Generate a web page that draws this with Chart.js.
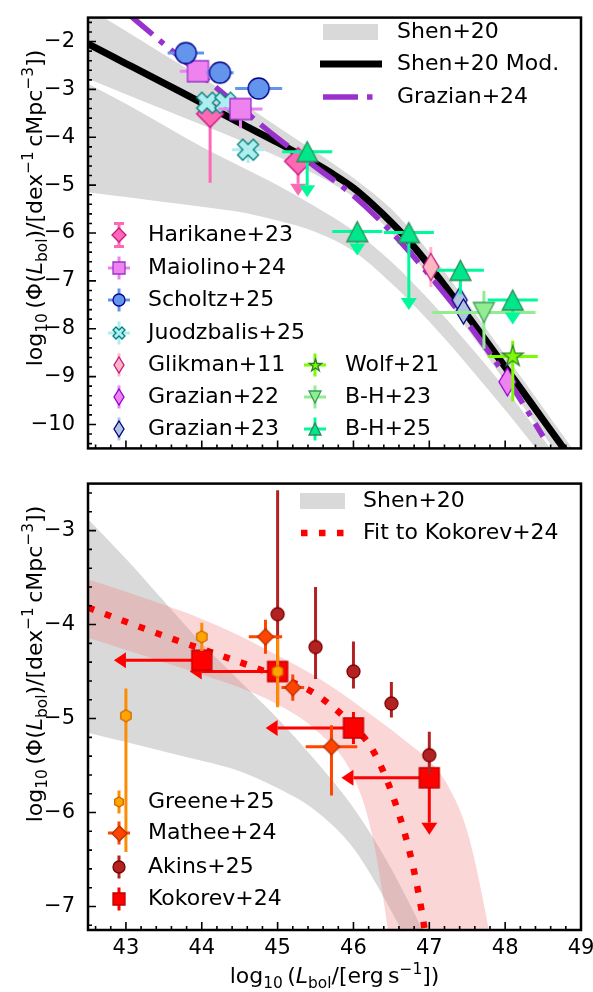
<!DOCTYPE html>
<html>
<head>
<meta charset="utf-8">
<script src="https://cdn.jsdelivr.net/npm/chart.js@4.4.0/dist/chart.umd.min.js"></script>
<style>
  html, body { margin: 0; padding: 0; background: #fff; }
  #wrap { position: relative; width: 593px; height: 992px; }
  #topChart { position: absolute; left: 0; top: 0; }
  #botChart { position: absolute; left: 0; top: 466px; }
</style>
</head>
<body>
<div id="wrap">
  <canvas id="topChart" width="593" height="466"></canvas>
  <canvas id="botChart" width="593" height="526"></canvas>
</div>
<script>
'use strict';

const FONT = '"DejaVu Sans", "Noto Sans", sans-serif';
const MINUS = '\u2212';

// ---- axes ----
const xMin = 42.5, xMax = 49;
const xTicks = [43, 44, 45, 46, 47, 48, 49];
const topYMin = -10.5, topYMax = -1.5;
const topYTicks = [-10, -9, -8, -7, -6, -5, -4, -3, -2];
const botYMin = -7.25, botYMax = -2.5;
const botYTicks = [-7, -6, -5, -4, -3];

// ---- model curves (log10 L_bol grid) ----
const shenX = [42.5, 43, 43.5, 44, 44.5, 45, 45.5, 46, 46.5, 47, 47.5, 48, 48.5, 49];
const shenBrightHi = [-1.3, -1.78, -2.27, -2.75, -3.25, -3.78, -4.3, -4.85, -5.5, -6.4, -7.45, -8.55, -9.65, -10.75];
const shenBrightLo = [-2.78, -3.1, -3.42, -3.74, -4.06, -4.4, -4.78, -5.25, -6.0, -6.9, -8.0, -9.1, -10.2, -11.3];
const shenFaintHi = [-2.88, -3.3, -3.75, -4.2, -4.6, -5.0, -5.45, -5.95, -6.6, -7.4, -8.3, -9.25, -10.3, -11.4];
const shenFaintLo = [-5.15, -5.25, -5.35, -5.45, -5.56, -5.74, -5.98, -6.38, -7.05, -7.85, -8.75, -9.7, -10.7, -11.8];

const shenModX = [42.5, 43, 43.5, 44, 44.5, 45, 45.5, 45.75, 46, 46.25, 46.5, 46.75, 47, 47.5, 48, 48.5, 49];
const shenModY = [-2.05, -2.46, -2.87, -3.28, -3.70, -4.11, -4.55, -4.79, -5.06, -5.4, -5.78, -6.2, -6.68, -7.72, -8.8, -9.9, -11.0];

const grazian24X = [43, 43.5, 44, 44.5, 45, 45.5, 46, 46.5, 47, 47.5, 48, 48.5];
const grazian24Y = [-1.38, -2.05, -2.71, -3.37, -4.02, -4.62, -5.22, -5.98, -6.88, -7.87, -8.98, -10.25];

const kokFitX = [42.5, 43, 43.5, 44, 44.5, 45, 45.5, 46, 46.25, 46.5, 46.75, 46.9, 47.0];
const kokFitY = [-3.82, -3.97, -4.12, -4.26, -4.40, -4.55, -4.74, -5.08, -5.33, -5.78, -6.45, -7.05, -7.6];
const kokBandX = [42.5, 43, 43.5, 44, 44.5, 45, 45.5, 46, 46.25, 46.5, 46.75, 47, 47.25, 47.5, 47.75, 48];
const kokBandHi = [-3.52, -3.65, -3.79, -3.94, -4.12, -4.33, -4.55, -4.82, -4.97, -5.12, -5.28, -5.45, -5.72, -6.2, -7.1, -8.3];
const kokBandLo = [-4.14, -4.27, -4.4, -4.53, -4.67, -4.85, -5.12, -5.62, -6.25, -7.5, -9, -10, -11, -12, -13, -14];

// ---- top panel measurements ----
const harikaneX = [44.11, 45.27];
const harikaneY = [-3.51, -4.50];
const harikaneYHi = [0.2, 0];
const harikaneYLo = [1.44, 0.47];
const harikaneUpLim = [false, true];

const maiolinoX = [43.95, 44.51];
const maiolinoY = [-2.62, -3.41];
const maiolinoXErr = [0.24, 0.29];
const maiolinoYHi = [0.05, 0.1];
const maiolinoYLo = [0.12, 0.4];

const scholtzX = [43.79, 44.24, 44.75];
const scholtzY = [-2.24, -2.65, -2.98];
const scholtzXErr = [0.24, 0.18, 0.31];

const juodzbalisX = [44.07, 44.31, 44.61];
const juodzbalisY = [-3.28, -3.28, -4.26];
const juodzbalisXErr = [0.1, 0.1, 0.21];
const juodzbalisYHi = [0.05, 0.05, 0.15];
const juodzbalisYLo = [0.05, 0.05, 0.28];

const glikmanX = [47.02];
const glikmanY = [-6.71];
const glikmanYErr = [0.42];

const grazian22X = [48.03];
const grazian22Y = [-9.11];

const grazian23X = [47.40, 47.45];
const grazian23Y = [-7.40, -7.64];

const wolfX = [48.10];
const wolfY = [-8.58];
const wolfXErr = [0.33];
const wolfYHi = [0.33];
const wolfYLo = [0.94];

const bh23X = [47.72];
const bh23Y = [-7.66];
const bh23XErr = [0.68];
const bh23YHi = [0.45];
const bh23YLo = [0.76];

const bh25X = [45.39, 46.05, 46.73, 47.41, 48.10];
const bh25Y = [-4.30, -5.97, -5.99, -6.78, -7.40];
const bh25XErr = [0.33, 0.33, 0.33, 0.31, 0.33];
const bh25YLo = [0.7, 0.25, 1.37, 0.5, 0.26];
const bh25UpLim = [true, true, true, false, true];

// ---- bottom panel measurements ----
const greeneX = [43.0, 44.0, 45.0];
const greeneY = [-4.97, -4.13, -4.50];
const greeneYHi = [0.29, 0.15, 0.35];
const greeneYLo = [1.45, 0.15, 0.38];

const matheeX = [44.84, 45.20, 45.71];
const matheeY = [-4.13, -4.67, -5.30];
const matheeXErr = [0.22, 0.15, 0.34];
const matheeYHi = [0.18, 0.14, 0.23];
const matheeYLo = [0.18, 0.14, 0.52];

const akinsX = [45.0, 45.5, 46.0, 46.5, 47.0];
const akinsY = [-3.89, -4.24, -4.50, -4.84, -5.39];
const akinsYHi = [1.32, 0.64, 0.32, 0.23, 0.25];
const akinsYLo = [0.97, 0.34, 0.18, 0.15, 0.2];

const kokorevX = [44.0, 45.0, 46.0, 47.0];
const kokorevY = [-4.38, -4.50, -5.10, -5.63];
const kokorevXLo = [1.0, 1.0, 1.0, 1.0];
const kokorevYHi = [0, 0, 0.17, 0];
const kokorevYLo = [0, 0, 0.17, 0.48];
const kokorevLeftLim = [true, true, true, true];
const kokorevUpLim = [false, false, false, true];

// ---- helpers ----
const pts = (xs, ys) => xs.map((x, i) => ({ x, y: ys[i] }));
const fmt = v => (v < 0 ? MINUS + Math.abs(v) : String(v));
const val = (arr, i) => (arr ? (arr[i] || 0) : 0);

function makeMarker(shape, w, h, fill, edge, lw = 1.3) {
  const pad = Math.ceil(lw) + 1;
  const c = document.createElement('canvas');
  c.width = Math.ceil(w + 2 * pad);
  c.height = Math.ceil(h + 2 * pad);
  const g = c.getContext('2d');
  g.translate(c.width / 2, c.height / 2);
  const rx = w / 2, ry = h / 2;
  g.beginPath();
  if (shape === 'circle') {
    g.ellipse(0, 0, rx, ry, 0, 0, Math.PI * 2);
  } else if (shape === 'square') {
    g.rect(-rx, -ry, w, h);
  } else if (shape === 'diamond') {
    g.moveTo(0, -ry); g.lineTo(rx, 0); g.lineTo(0, ry); g.lineTo(-rx, 0); g.closePath();
  } else if (shape === 'triUp') {
    g.moveTo(0, -ry); g.lineTo(rx, ry); g.lineTo(-rx, ry); g.closePath();
  } else if (shape === 'triDown') {
    g.moveTo(0, ry); g.lineTo(rx, -ry); g.lineTo(-rx, -ry); g.closePath();
  } else if (shape === 'star') {
    for (let k = 0; k < 10; k++) {
      const r = k % 2 ? 0.382 : 1;
      const a = -Math.PI / 2 + k * Math.PI / 5;
      const px = Math.cos(a) * r * rx, py = Math.sin(a) * r * ry;
      k ? g.lineTo(px, py) : g.moveTo(px, py);
    }
    g.closePath();
  } else if (shape === 'hex') {
    for (let k = 0; k < 6; k++) {
      const a = -Math.PI / 2 + k * Math.PI / 3;
      const px = Math.cos(a) * rx, py = Math.sin(a) * ry;
      k ? g.lineTo(px, py) : g.moveTo(px, py);
    }
    g.closePath();
  } else if (shape === 'xfill') {
    const v = [[-1, -2], [0, -1], [1, -2], [2, -1], [1, 0], [2, 1], [1, 2], [0, 1], [-1, 2], [-2, 1], [-1, 0], [-2, -1]];
    v.forEach(([a, b], k) => (k ? g.lineTo(a * rx / 2, b * ry / 2) : g.moveTo(a * rx / 2, b * ry / 2)));
    g.closePath();
  }
  g.fillStyle = fill;
  g.fill();
  g.lineWidth = lw;
  g.strokeStyle = edge;
  g.stroke();
  return c;
}

function arrowHead(ctx, x, y, dir) {
  const half = 8, len = 12;
  ctx.beginPath();
  if (dir === 'down') {
    ctx.moveTo(x - half, y); ctx.lineTo(x + half, y); ctx.lineTo(x, y + len);
  } else {
    ctx.moveTo(x, y - half); ctx.lineTo(x, y + half); ctx.lineTo(x - len, y);
  }
  ctx.closePath();
  ctx.fill();
}

// error bars sit just under each dataset's own markers
const errorBars = {
  id: 'errorBars',
  beforeDatasetDraw(chart, args) {
    const ds = chart.data.datasets[args.index];
    const e = ds.errorBars;
    if (!e) return;
    const { ctx, chartArea: a } = chart;
    const sx = chart.scales.x, sy = chart.scales.y;
    ctx.save();
    ctx.beginPath();
    ctx.rect(a.left, a.top, a.right - a.left, a.bottom - a.top);
    ctx.clip();
    ctx.strokeStyle = e.color;
    ctx.fillStyle = e.color;
    ctx.lineWidth = 3;
    ds.data.forEach((p, i) => {
      const px = sx.getPixelForValue(p.x);
      const py = sy.getPixelForValue(p.y);
      const xl = val(e.xLo, i), xh = val(e.xHi || e.xLo, i);
      const yl = val(e.yLo, i), yh = val(e.yHi || e.yLo, i);
      ctx.beginPath();
      if (xl || xh) {
        ctx.moveTo(sx.getPixelForValue(p.x - xl), py);
        ctx.lineTo(sx.getPixelForValue(p.x + xh), py);
      }
      if (yl || yh) {
        ctx.moveTo(px, sy.getPixelForValue(p.y + yh));
        ctx.lineTo(px, sy.getPixelForValue(p.y - yl));
      }
      ctx.stroke();
      if (e.upLim && e.upLim[i]) arrowHead(ctx, px, sy.getPixelForValue(p.y - yl), 'down');
      if (e.leftLim && e.leftLim[i]) arrowHead(ctx, sx.getPixelForValue(p.x - xl), py, 'left');
    });
    ctx.restore();
  }
};

// inward ticks on bottom/left plus the heavy frame
const axesFrame = {
  id: 'axesFrame',
  afterDatasetsDraw(chart) {
    const { ctx, chartArea: a } = chart;
    const sx = chart.scales.x, sy = chart.scales.y;
    ctx.save();
    ctx.strokeStyle = '#000';
    ctx.lineWidth = 1.6;
    ctx.beginPath();
    for (let k = Math.ceil(sx.min * 5); k <= Math.floor(sx.max * 5); k++) {
      const px = sx.getPixelForValue(k / 5);
      const len = k % 5 === 0 ? 8 : 4;
      ctx.moveTo(px, a.bottom); ctx.lineTo(px, a.bottom - len);
    }
    for (let k = Math.ceil(sy.min * 5); k <= Math.floor(sy.max * 5); k++) {
      const py = sy.getPixelForValue(k / 5);
      const len = k % 5 === 0 ? 8 : 4;
      ctx.moveTo(a.left, py); ctx.lineTo(a.left + len, py);
    }
    ctx.stroke();
    ctx.lineWidth = 2.5;
    ctx.strokeRect(a.left, a.top, a.right - a.left, a.bottom - a.top);
    ctx.restore();
  }
};

// text with sub/superscripts, centred on the current origin
function drawRich(ctx, runs, size) {
  const fontFor = r => (r.it ? 'italic ' : '') + ((r.sub || r.sup) ? size * 0.7 : size) + 'px ' + FONT;
  let w = 0;
  runs.forEach(r => { ctx.font = fontFor(r); w += ctx.measureText(r.t).width; });
  let x = -w / 2;
  ctx.textAlign = 'left';
  ctx.textBaseline = 'alphabetic';
  runs.forEach(r => {
    ctx.font = fontFor(r);
    const dy = r.sub ? size * 0.22 : r.sup ? -size * 0.42 : 0;
    ctx.fillText(r.t, x, dy);
    x += ctx.measureText(r.t).width;
  });
}

const yTitle = [
  { t: 'log' }, { t: '10', sub: 1 }, { t: '\u2009(\u03A6(' }, { t: 'L', it: 1 }, { t: 'bol', sub: 1 },
  { t: ')/[dex' }, { t: MINUS + '1', sup: 1 }, { t: '\u2009cMpc' }, { t: MINUS + '3', sup: 1 }, { t: '])' },
];
const xTitle = [
  { t: 'log' }, { t: '10', sub: 1 }, { t: '\u2009(' }, { t: 'L', it: 1 }, { t: 'bol', sub: 1 },
  { t: '/[erg\u2009s' }, { t: MINUS + '1', sup: 1 }, { t: '])' },
];

function drawYTitle(chart, cy) {
  const ctx = chart.ctx;
  ctx.save();
  ctx.fillStyle = '#000';
  ctx.translate(42, cy);
  ctx.rotate(-Math.PI / 2);
  drawRich(ctx, yTitle, 22);
  ctx.restore();
}

// legend glyph: error cross / bar behind a small marker
function drawGlyph(ctx, x, y, item) {
  ctx.save();
  ctx.strokeStyle = item.color;
  ctx.lineWidth = 3;
  ctx.beginPath();
  ctx.moveTo(x, y - 11.5); ctx.lineTo(x, y + 11.5);
  if (item.cross) { ctx.moveTo(x - 11, y); ctx.lineTo(x + 11, y); }
  if (item.cap) {
    ctx.moveTo(x - 5, y - 11.5); ctx.lineTo(x + 5, y - 11.5);
    ctx.moveTo(x - 5, y + 11.5); ctx.lineTo(x + 5, y + 11.5);
  }
  ctx.stroke();
  const m = item.marker;
  ctx.drawImage(m, Math.round(x - m.width / 2), Math.round(y - m.height / 2));
  ctx.restore();
}

function drawLegendText(ctx, text, x, y) {
  ctx.font = '22px ' + FONT;
  ctx.fillStyle = '#000';
  ctx.textAlign = 'left';
  ctx.textBaseline = 'middle';
  ctx.fillText(text, x, y);
}

// ---- colours ----
const C = {
  shen: '#d9d9d9',
  shenMod: '#000000',
  grazian24: '#9932cc',
  kokFit: '#ff0000',
  kokBand: 'rgba(240,128,128,0.32)',
};

// ---- markers (plot size / legend size) ----
const M = {
  harikane: makeMarker('diamond', 27, 27, '#ff69b4', '#c71585'),
  maiolino: makeMarker('square', 21, 21, '#ee82ee', '#9932cc'),
  scholtz: makeMarker('circle', 21, 21, '#6495ed', '#00008b'),
  juodzbalis: makeMarker('xfill', 21, 21, '#afeeee', '#008080'),
  glikman: makeMarker('diamond', 16, 27, '#ffb6c1', '#c71585'),
  grazian22: makeMarker('diamond', 17, 28, '#ee82ee', '#9400d3'),
  grazian23: makeMarker('diamond', 15, 25, '#b0c4de', '#000080'),
  wolf: makeMarker('star', 22, 22, '#7cfc00', '#2e7d32'),
  bh23: makeMarker('triDown', 21, 20, '#90ee90', '#3c9a5f'),
  bh25: makeMarker('triUp', 21, 20, '#00e68a', '#2e8b57'),
  greene: makeMarker('hex', 12, 12, '#ffa500', '#cc6a00'),
  mathee: makeMarker('diamond', 16, 16, '#ff4500', '#b83200'),
  akins: makeMarker('circle', 13, 13, '#b22222', '#7a0000'),
  kokorev: makeMarker('square', 20, 20, '#ff0000', '#c00000'),
};
const L = {
  harikane: makeMarker('diamond', 14, 14, '#ff69b4', '#c71585'),
  maiolino: makeMarker('square', 12, 12, '#ee82ee', '#9932cc'),
  scholtz: makeMarker('circle', 12, 12, '#6495ed', '#00008b'),
  juodzbalis: makeMarker('xfill', 12, 12, '#afeeee', '#008080'),
  glikman: makeMarker('diamond', 10, 16, '#ffb6c1', '#c71585'),
  grazian22: makeMarker('diamond', 10, 16, '#ee82ee', '#9400d3'),
  grazian23: makeMarker('diamond', 10, 16, '#b0c4de', '#000080'),
  wolf: makeMarker('star', 13, 13, '#7cfc00', '#2e7d32'),
  bh23: makeMarker('triDown', 12, 12, '#90ee90', '#3c9a5f'),
  bh25: makeMarker('triUp', 12, 12, '#00e68a', '#2e8b57'),
  greene: makeMarker('hex', 10, 10, '#ffa500', '#cc6a00'),
  mathee: makeMarker('diamond', 15, 15, '#ff4500', '#b83200'),
  akins: makeMarker('circle', 12, 12, '#b22222', '#7a0000'),
  kokorev: makeMarker('square', 12, 12, '#ff0000', '#c00000'),
};

// ---- dataset builders ----
function band(xs, ys, color, fill) {
  return {
    type: 'line', data: pts(xs, ys), borderWidth: 0, pointRadius: 0,
    backgroundColor: color, fill: fill ? '+1' : false, cubicInterpolationMode: 'monotone',
  };
}
function curve(xs, ys, color, width, dash) {
  return {
    type: 'line', data: pts(xs, ys), borderColor: color, borderWidth: width, borderDash: dash || [],
    borderCapStyle: 'butt', pointRadius: 0, fill: false, cubicInterpolationMode: 'monotone',
  };
}
function points(label, xs, ys, marker, errorBars) {
  return { type: 'scatter', label, data: pts(xs, ys), pointStyle: marker, pointRadius: 10, errorBars };
}
// first dataset is drawn first (lowest)
function stackOrder(list) {
  list.forEach((d, i) => { d.order = list.length - i; });
  return list;
}

function xScale(showLabels, height) {
  return {
    type: 'linear', min: xMin, max: xMax,
    grid: { display: false }, border: { display: false },
    afterBuildTicks: s => { s.ticks = xTicks.map(v => ({ value: v })); },
    afterFit: s => { s.height = height; },
    ticks: {
      display: showLabels, padding: -2, color: '#000', maxRotation: 0, autoSkip: false,
      font: { family: FONT, size: 21 }, callback: fmt,
    },
  };
}
function yScale(min, max, ticks) {
  return {
    type: 'linear', min, max,
    grid: { display: false }, border: { display: false },
    afterBuildTicks: s => { s.ticks = ticks.map(v => ({ value: v })); },
    afterFit: s => { s.width = 88; },
    ticks: { padding: 5, color: '#000', autoSkip: false, font: { family: FONT, size: 21 }, callback: fmt },
  };
}
const baseOptions = (pad, x, y) => ({
  responsive: false, animation: false, events: [],
  layout: { padding: pad },
  plugins: { legend: { display: false }, tooltip: { enabled: false } },
  scales: { x, y },
});

// ---- top panel ----
const topLegend = {
  id: 'topLegend',
  afterDraw(chart) {
    const ctx = chart.ctx;
    drawYTitle(chart, 208);
    // models, upper right
    ctx.save();
    ctx.fillStyle = C.shen;
    ctx.fillRect(323, 24, 55, 16);
    ctx.strokeStyle = C.shenMod;
    ctx.lineWidth = 7;
    ctx.beginPath(); ctx.moveTo(320, 64); ctx.lineTo(382, 64); ctx.stroke();
    ctx.strokeStyle = C.grazian24;
    ctx.lineWidth = 5.5;
    ctx.setLineDash([35, 9, 5.5, 9]);
    ctx.beginPath(); ctx.moveTo(323, 97); ctx.lineTo(380, 97); ctx.stroke();
    ctx.restore();
    drawLegendText(ctx, 'Shen+20', 397, 32);
    drawLegendText(ctx, 'Shen+20 Mod.', 397, 64);
    drawLegendText(ctx, 'Grazian+24', 397, 97);
    // data, lower left
    const col1 = [
      ['Harikane+23', { marker: L.harikane, color: '#ff69b4', cap: true }],
      ['Maiolino+24', { marker: L.maiolino, color: '#ee82ee', cross: true }],
      ['Scholtz+25', { marker: L.scholtz, color: '#6495ed', cross: true }],
      ['Juodzbalis+25', { marker: L.juodzbalis, color: '#afeeee', cross: true }],
      ['Glikman+11', { marker: L.glikman, color: '#ffb6c1' }],
      ['Grazian+22', { marker: L.grazian22, color: '#ee82ee' }],
      ['Grazian+23', { marker: L.grazian23, color: '#b0c4de' }],
    ];
    const rows = [235, 268, 300, 333, 365, 397, 429];
    col1.forEach(([t, g], i) => { drawGlyph(ctx, 119, rows[i], g); drawLegendText(ctx, t, 148, rows[i]); });
    const col2 = [
      ['Wolf+21', { marker: L.wolf, color: '#7cfc00', cross: true }],
      ['B-H+23', { marker: L.bh23, color: '#90ee90', cross: true }],
      ['B-H+25', { marker: L.bh25, color: '#00fa9a', cross: true }],
    ];
    col2.forEach(([t, g], i) => { drawGlyph(ctx, 315, rows[i + 4], g); drawLegendText(ctx, t, 345, rows[i + 4]); });
  }
};

new Chart(document.getElementById('topChart'), {
  type: 'scatter',
  data: {
    datasets: stackOrder([
      band(shenX, shenBrightHi, C.shen, true),
      band(shenX, shenBrightLo, C.shen, false),
      band(shenX, shenFaintHi, C.shen, true),
      band(shenX, shenFaintLo, C.shen, false),
      curve(shenModX, shenModY, C.shenMod, 7),
      curve(grazian24X, grazian24Y, C.grazian24, 5.5, [35, 9, 5.5, 9]),
      points('Harikane+23', harikaneX, harikaneY, M.harikane,
        { color: '#ff69b4', yHi: harikaneYHi, yLo: harikaneYLo, upLim: harikaneUpLim }),
      points('Juodzbalis+25', juodzbalisX, juodzbalisY, M.juodzbalis,
        { color: '#afeeee', xLo: juodzbalisXErr, yHi: juodzbalisYHi, yLo: juodzbalisYLo }),
      points('Maiolino+24', maiolinoX, maiolinoY, M.maiolino,
        { color: '#ee82ee', xLo: maiolinoXErr, yHi: maiolinoYHi, yLo: maiolinoYLo }),
      points('Scholtz+25', scholtzX, scholtzY, M.scholtz, { color: '#6495ed', xLo: scholtzXErr }),
      points('Glikman+11', glikmanX, glikmanY, M.glikman, { color: '#ffb6c1', yLo: glikmanYErr }),
      points('Grazian+22', grazian22X, grazian22Y, M.grazian22, null),
      points('Grazian+23', grazian23X, grazian23Y, M.grazian23, null),
      points('Wolf+21', wolfX, wolfY, M.wolf, { color: '#7cfc00', xLo: wolfXErr, yHi: wolfYHi, yLo: wolfYLo }),
      points('B-H+23', bh23X, bh23Y, M.bh23, { color: '#90ee90', xLo: bh23XErr, yHi: bh23YHi, yLo: bh23YLo }),
      points('B-H+25', bh25X, bh25Y, M.bh25,
        { color: '#00fa9a', xLo: bh25XErr, yHi: [0, 0, 0, 0, 0], yLo: bh25YLo, upLim: bh25UpLim }),
    ]),
  },
  options: baseOptions({ top: 4, right: 12, left: 0, bottom: 0 }, xScale(false, 5), yScale(topYMin, topYMax, topYTicks)),
  plugins: [errorBars, axesFrame, topLegend],
});

// ---- bottom panel ----
const botLegend = {
  id: 'botLegend',
  afterDraw(chart) {
    const ctx = chart.ctx;
    drawYTitle(chart, 198);
    ctx.save();
    ctx.fillStyle = '#000';
    ctx.translate((chart.chartArea.left + chart.chartArea.right) / 2, 517);
    drawRich(ctx, xTitle, 22);
    ctx.restore();
    // models, upper right
    ctx.save();
    ctx.fillStyle = C.shen;
    ctx.fillRect(300, 27, 45, 16);
    ctx.strokeStyle = C.kokFit;
    ctx.lineWidth = 6.5;
    ctx.setLineDash([6.5, 11.5]);
    ctx.beginPath(); ctx.moveTo(301, 67); ctx.lineTo(346, 67); ctx.stroke();
    ctx.restore();
    drawLegendText(ctx, 'Shen+20', 363, 35);
    drawLegendText(ctx, 'Fit to Kokorev+24', 363, 67);
    // data, lower left
    const items = [
      ['Greene+25', { marker: L.greene, color: '#ff8c00' }],
      ['Mathee+24', { marker: L.mathee, color: '#ff4500', cross: true }],
      ['Akins+25', { marker: L.akins, color: '#b22222' }],
      ['Kokorev+24', { marker: L.kokorev, color: '#ff0000' }],
    ];
    const rows = [336, 367, 401, 433];
    items.forEach(([t, g], i) => { drawGlyph(ctx, 119, rows[i], g); drawLegendText(ctx, t, 148, rows[i]); });
  }
};

new Chart(document.getElementById('botChart'), {
  type: 'scatter',
  data: {
    datasets: stackOrder([
      band(shenX, shenFaintHi, C.shen, true),
      band(shenX, shenFaintLo, C.shen, false),
      band(kokBandX, kokBandHi, C.kokBand, true),
      band(kokBandX, kokBandLo, C.kokBand, false),
      curve(kokFitX, kokFitY, C.kokFit, 6.5, [6.5, 11.5]),
      points('Kokorev+24', kokorevX, kokorevY, M.kokorev,
        { color: '#ff0000', xLo: kokorevXLo, xHi: [0, 0, 0, 0], yHi: kokorevYHi, yLo: kokorevYLo,
          upLim: kokorevUpLim, leftLim: kokorevLeftLim }),
      points('Akins+25', akinsX, akinsY, M.akins, { color: '#b22222', yHi: akinsYHi, yLo: akinsYLo }),
      points('Mathee+24', matheeX, matheeY, M.mathee,
        { color: '#ff4500', xLo: matheeXErr, yHi: matheeYHi, yLo: matheeYLo }),
      points('Greene+25', greeneX, greeneY, M.greene, { color: '#ff8c00', yHi: greeneYHi, yLo: greeneYLo }),
    ]),
  },
  options: baseOptions({ top: 5, right: 12, left: 0, bottom: 0 }, xScale(true, 62), yScale(botYMin, botYMax, botYTicks)),
  plugins: [errorBars, axesFrame, botLegend],
});
</script>
</body>
</html>
